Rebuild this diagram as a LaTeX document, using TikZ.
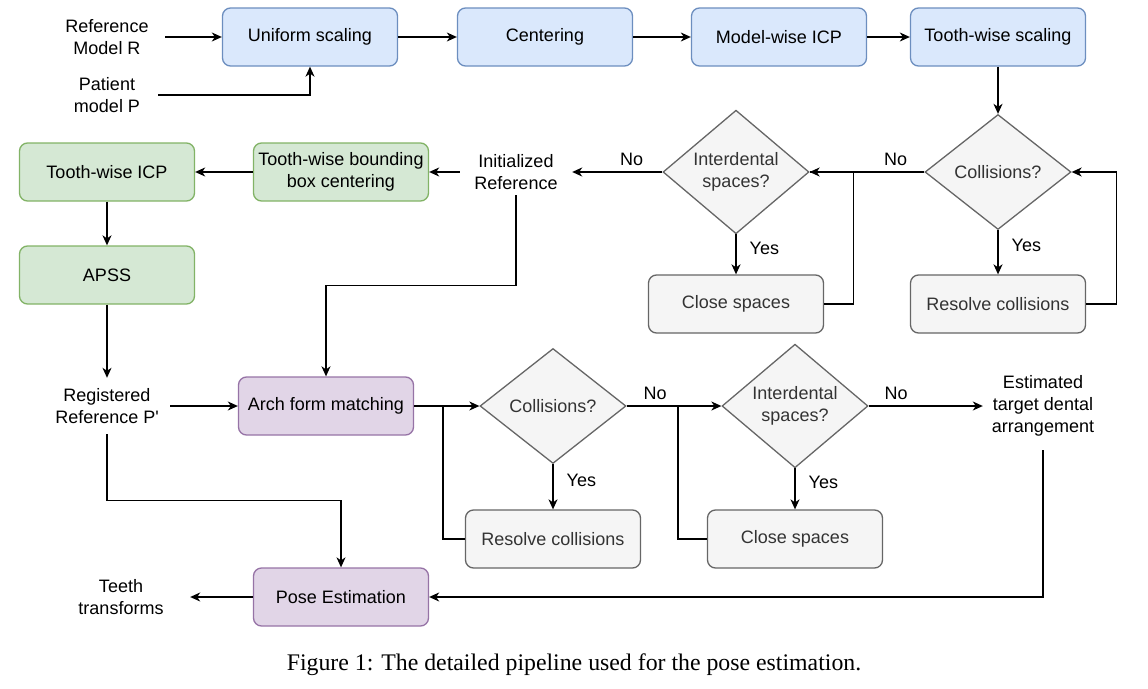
\documentclass[tikz,border=0pt]{standalone}
\usepackage{fontspec}
\setmainfont{Liberation Serif}
\newfontfamily\diagfont{Liberation Sans}
\usetikzlibrary{shapes.geometric,arrows.meta}
\definecolor{blueF}{HTML}{DAE8FC}
\definecolor{blueD}{HTML}{6C8EBF}
\definecolor{greenF}{HTML}{D5E8D4}
\definecolor{greenD}{HTML}{82B366}
\definecolor{purpF}{HTML}{E1D5E7}
\definecolor{purpD}{HTML}{9673A6}
\definecolor{grayF}{HTML}{F5F5F5}
\definecolor{grayD}{HTML}{666666}
\definecolor{grayT}{HTML}{333333}
\tikzset{
  base/.style={font=\diagfont\fontsize{18}{21.8}\selectfont, align=center, inner sep=0pt},
  box/.style={base, rectangle, rounded corners=8pt, minimum width=175pt, minimum height=58pt, line width=1.3pt},
  bluebox/.style={box, fill=blueF, draw=blueD},
  greenbox/.style={box, fill=greenF, draw=greenD},
  purpbox/.style={box, fill=purpF, draw=purpD},
  graybox/.style={box, fill=grayF, draw=grayD, text=grayT},
  decision/.style={base, diamond, minimum width=146pt, minimum height=115pt, fill=grayF, draw=grayD, text=grayT, line width=1.3pt},
  plain/.style={base},
  lbl/.style={font=\diagfont\fontsize{18}{21.8}\selectfont, inner sep=3pt},
  ylbl/.style={lbl, right, xshift=10pt},
  nlbl/.style={lbl, above, yshift=3pt},
  conn/.style={line width=1.3pt, black},
  arr/.style={conn, -{Stealth[length=10pt,width=9pt,inset=3pt]}},
}
\begin{document}
\begin{tikzpicture}[x=1pt,y=-1pt]
\useasboundingbox (0,0) rectangle (1148,688);
% top row
\node[plain, minimum width=116pt] (refR) at (107,37) {Reference\\Model R};
\node[plain, minimum width=102pt] (patient) at (107,95) {Patient\\model P};
\node[bluebox] (us) at (310,37) {Uniform scaling};
\node[bluebox] (cen) at (545,37) {Centering};
\node[bluebox] (mw) at (779,37) {Model-wise ICP};
\node[bluebox] (tws) at (998,37) {Tooth-wise scaling};
% second row
\node[decision] (col1) at (998,172) {Collisions?};
\node[decision] (id1) at (736,172) {Interdental\\spaces?};
\node[graybox] (rc1) at (998,304) {Resolve collisions};
\node[graybox] (cs1) at (736,304) {Close spaces};
\node[plain, minimum width=112pt, minimum height=46pt] (initref) at (516,172) {Initialized\\Reference};
\node[greenbox] (tbbc) at (341,172) {Tooth-wise bounding\\box centering};
\node[greenbox] (ticp) at (107,172) {Tooth-wise ICP};
\node[greenbox] (apss) at (107,275) {APSS};
% third row
\node[plain, minimum width=126pt, minimum height=56pt] (regref) at (107,406) {Registered\\Reference P'};
\node[purpbox] (arch) at (326,406) {Arch form matching};
\node[decision] (col2) at (553,406) {Collisions?};
\node[graybox] (rc2) at (553,539) {Resolve collisions};
\node[decision] (id2) at (795,406) {Interdental\\spaces?};
\node[graybox] (cs2) at (795,539) {Close spaces};
\node[plain, minimum width=120pt, minimum height=88pt] (est) at (1043,406) {Estimated\\target dental\\arrangement};
\node[purpbox] (pose) at (341,597) {Pose Estimation};
\node[plain, minimum width=138pt] (teeth) at (121,597) {Teeth\\transforms};
% caption
\node[font=\fontsize{23.8}{27}\selectfont, inner sep=0pt] (cap) at (574,665) {Figure 1: The detailed pipeline used for the pose estimation.};
% connectors
\draw[arr] (refR) -- (us);
\draw[arr] (patient.east) -| (us.south);
\draw[arr] (us) -- (cen);
\draw[arr] (cen) -- (mw);
\draw[arr] (mw) -- (tws);
\draw[arr] (tws) -- (col1);
\draw[arr] (col1) -- node[ylbl, pos=0.35] {Yes} (rc1);
\draw[arr] (rc1.east) -- ++(30,0) |- (col1.east);
\draw[arr] (col1.west) -- node[nlbl, pos=0.25] {No} (id1.east);
\draw[conn] (cs1.east) -- ++(29,0) |- (id1.east);
\draw[arr] (id1) -- node[ylbl, pos=0.35] {Yes} (cs1);
\draw[arr] (id1.west) -- node[nlbl, pos=0.34] {No} (initref.east);
\draw[arr] (initref) -- (tbbc);
\draw[arr] (tbbc) -- (ticp);
\draw[arr] (ticp) -- (apss);
\draw[arr] (apss) -- (regref);
\draw[arr] (initref.south) -- ++(0,90) -| (arch.north);
\draw[arr] (regref) -- (arch);
\draw[arr] (arch) -- (col2);
\draw[arr] (col2) -- node[ylbl, pos=0.35] {Yes} (rc2);
\draw[conn] (rc2.west) -- ++(-22,0) |- (arch.east);
\draw[arr] (col2.east) -- node[nlbl, pos=0.3] {No} (id2.west);
\draw[conn] (cs2.west) -- ++(-29,0) |- (col2.east);
\draw[arr] (id2) -- node[ylbl, pos=0.35] {Yes} (cs2);
\draw[arr] (id2.east) -- node[nlbl, pos=0.24] {No} (est.west);
\draw[arr] (est.south) |- (pose.east);
\draw[arr] (regref.south) -- ++(0,66) -| (pose.north);
\draw[arr] (pose) -- (teeth);
\end{tikzpicture}
\end{document}
